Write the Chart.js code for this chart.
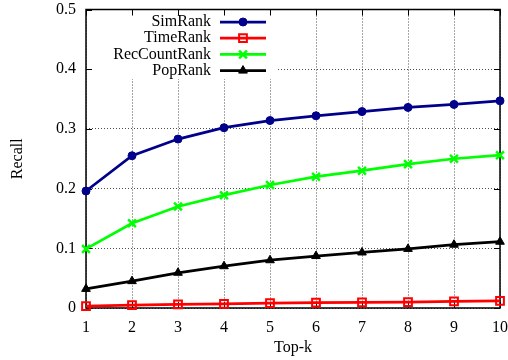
<!DOCTYPE html>
<html>
<head>
<meta charset="utf-8">
<script src="https://cdn.jsdelivr.net/npm/chart.js@4.4.1/dist/chart.umd.min.js"></script>
<style>
  html, body { margin: 0; padding: 0; background: #fff; }
  canvas { display: block; }
</style>
</head>
<body>
<canvas id="c" width="508" height="360"></canvas>
<script>
// ---- data ----
const topK = ['1','2','3','4','5','6','7','8','9','10'];
const yTicks = [0, 0.1, 0.2, 0.3, 0.4, 0.5];
const simRank      = [0.196, 0.255, 0.283, 0.302, 0.314, 0.322, 0.329, 0.336, 0.341, 0.347];
const timeRank     = [0.003, 0.005, 0.006, 0.007, 0.008, 0.009, 0.0095, 0.010, 0.011, 0.012];
const recCountRank = [0.099, 0.142, 0.170, 0.189, 0.206, 0.220, 0.230, 0.241, 0.250, 0.256];
const popRank      = [0.032, 0.045, 0.059, 0.070, 0.080, 0.087, 0.093, 0.099, 0.106, 0.111];

const SERIF = "'Liberation Serif', 'DejaVu Serif', serif";
const font16 = { family: SERIF, size: 16 };

// gnuplot-ish frame, inward ticks and the legend with its white box
const gnuFrame = {
  id: 'gnuFrame',
  beforeDatasetsDraw(chart){
    const {ctx, chartArea: a, scales} = chart;
    ctx.save();
    // legend box clears the grid under it
    ctx.fillStyle = '#fff';
    ctx.fillRect(a.left + 2, a.top + 1.5, 276 - a.left - 2, 79 - a.top - 1.5);

    // frame
    ctx.strokeStyle = '#000';
    ctx.lineWidth = 1.5;
    ctx.strokeRect(a.left, a.top, a.right - a.left, a.bottom - a.top);

    // inward ticks on all four sides
    ctx.lineWidth = 1;
    const tl = 6;
    ctx.beginPath();
    topK.forEach((_, i)=>{
      const x = Math.round(scales.x.getPixelForValue(i)) + 0.5;
      ctx.moveTo(x, a.bottom); ctx.lineTo(x, a.bottom - tl);
      ctx.moveTo(x, a.top); ctx.lineTo(x, a.top + tl);
    });
    yTicks.forEach(v=>{
      const y = Math.round(scales.y.getPixelForValue(v)) + 0.5;
      ctx.moveTo(a.left, y); ctx.lineTo(a.left + tl, y);
      ctx.moveTo(a.right, y); ctx.lineTo(a.right - tl, y);
    });
    ctx.stroke();

    // legend: text, then line sample with marker
    const textRight = 211, lx0 = 220, lx1 = 266, mx = 243;
    ctx.font = '16px ' + SERIF;
    ctx.textAlign = 'right';
    ctx.textBaseline = 'middle';
    chart.data.datasets.forEach((ds, i)=>{
      const y = 22 + i * 16.2;
      ctx.fillStyle = '#000';
      ctx.fillText(ds.label, textRight, y);
      ctx.strokeStyle = ds.borderColor;
      ctx.lineWidth = ds.borderWidth;
      ctx.beginPath(); ctx.moveTo(lx0, y); ctx.lineTo(lx1, y); ctx.stroke();
      ctx.fillStyle = ds.pointBackgroundColor;
      ctx.strokeStyle = ds.borderColor;
      ctx.lineWidth = ds.pointBorderWidth;
      Chart.helpers.drawPoint(ctx, {
        pointStyle: ds.pointStyle, radius: ds.pointRadius, rotation: 0, borderWidth: ds.pointBorderWidth
      }, mx, y);
    });
    ctx.restore();
  }
};

const series = (label, data, color, style, r, bw, fill)=>({
  label, data,
  borderColor: color,
  backgroundColor: color,
  borderWidth: 2.75,
  pointStyle: style,
  pointRadius: r,
  pointBorderWidth: bw,
  pointBackgroundColor: fill,
  pointBorderColor: color,
  tension: 0,
  clip: false
});

new Chart(document.getElementById('c'), {
  type: 'line',
  data: {
    labels: topK,
    datasets: [
      series('SimRank', simRank, '#00008b', 'circle', 4, 1, '#00008b'),
      series('TimeRank', timeRank, '#ff0000', 'rect', 5.5, 2, 'rgba(0,0,0,0)'),
      series('RecCountRank', recCountRank, '#00ff00', 'crossRot', 5.5, 2.5, '#00ff00'),
      series('PopRank', popRank, '#000000', 'triangle', 5, 1, '#000000')
    ]
  },
  options: {
    responsive: false,
    devicePixelRatio: 1,
    animation: false,
    layout: { padding: { left: 0, right: 8, top: 9.5, bottom: 0 } },
    plugins: { legend: { display: false }, tooltip: { enabled: false } },
    scales: {
      x: {
        type: 'category',
        offset: false,
        grid: { color: 'rgba(0,0,0,0.7)', lineWidth: 1, drawTicks: false },
        border: { display: false, dash: [1, 2] },
        ticks: { font: font16, color: '#000', padding: 10, maxRotation: 0, autoSkip: false },
        title: { display: true, text: 'Top-k', font: font16, color: '#000', padding: { top: 0, bottom: 3 } },
        afterFit(s){ s.height = 52; s.paddingLeft = 0; s.paddingRight = 0; }
      },
      y: {
        min: 0, max: 0.5,
        afterBuildTicks(s){ s.ticks = yTicks.map(v=>({ value: v })); },
        grid: { color: 'rgba(0,0,0,0.7)', lineWidth: 1, drawTicks: false },
        border: { display: false, dash: [1, 2] },
        ticks: { font: font16, color: '#000', padding: 10 },
        title: { display: true, text: 'Recall', font: font16, color: '#000', padding: { top: 8, bottom: 0 } },
        afterFit(s){ s.width = 86; s.paddingTop = 0; s.paddingBottom = 0; }
      }
    }
  },
  plugins: [gnuFrame]
});
</script>
</body>
</html>
